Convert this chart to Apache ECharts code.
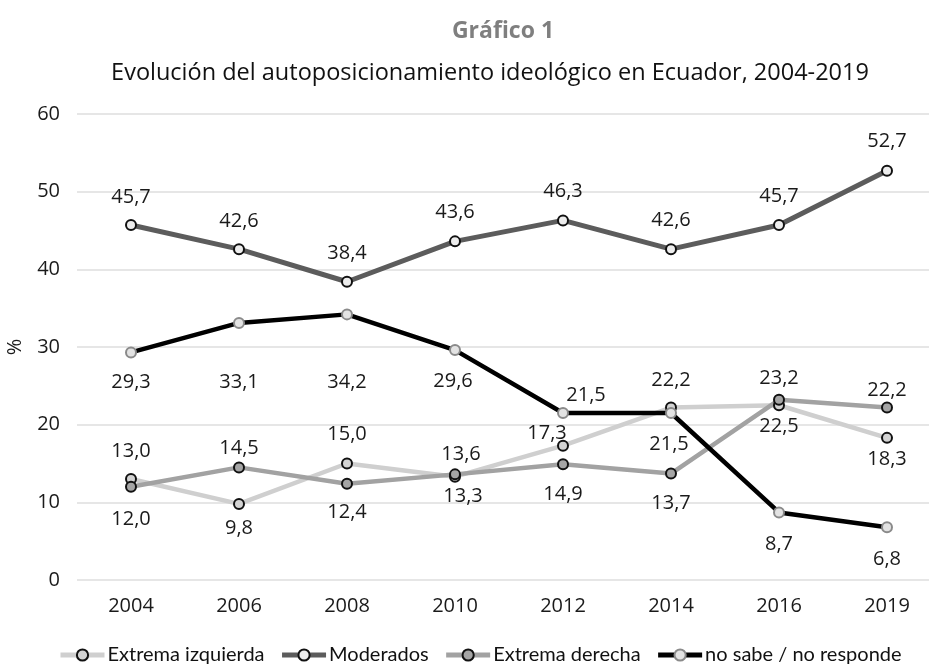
<!DOCTYPE html>
<html>
<head>
<meta charset="utf-8">
<script src="https://cdn.jsdelivr.net/npm/echarts@6/dist/echarts.min.js"></script>
<style>
html,body{margin:0;padding:0;background:#fff;}
#c{width:929px;height:666px;}
</style>
</head>
<body>
<div id="c"></div>
<script>
var years = ['2004','2006','2008','2010','2012','2014','2016','2019'];
var yTicks = [0, 10, 20, 30, 40, 50, 60];
var seriesNames = ['Extrema izquierda','Moderados','Extrema derecha','no sabe / no responde'];
var extremaIzquierda = [13.0, 9.8, 15.0, 13.3, 17.3, 22.2, 22.5, 18.3];
var moderados = [45.7, 42.6, 38.4, 43.6, 46.3, 42.6, 45.7, 52.7];
var extremaDerecha = [12.0, 14.5, 12.4, 13.6, 14.9, 13.7, 23.2, 22.2];
var noSabe = [29.3, 33.1, 34.2, 29.6, 21.5, 21.5, 8.7, 6.8];

// label offsets (style only): [dx, dy] of label centre relative to its point
var labelOffsets = [
  [[0,-28],[0,24],[0,-29],[8,20],[-16,-12],[0,-27],[0,21],[0,21]],
  [[0,-28],[0,-28],[0,-28],[0,-29],[0,-29],[0,-29],[0,-29],[0,-29]],
  [[0,32],[0,-19],[0,29],[6,-20],[0,30],[0,30],[0,-22],[0,-17]],
  [[0,30],[0,59],[0,68],[-2,31],[23,-18],[-2,31],[0,32],[0,32]]
];
var styles = [
  {line:'#cfcfcf', fill:'#d3d3d3', border:'#111111', width:4.5},
  {line:'#5c5c5c', fill:'#ededed', border:'#111111', width:5},
  {line:'#a2a2a2', fill:'#a5a5a5', border:'#111111', width:4.5},
  {line:'#000000', fill:'#e3e3e3', border:'#8a8a8a', width:4.5}
];
var allData = [extremaIzquierda, moderados, extremaDerecha, noSabe];

function fmt(v){ return v.toFixed(1).replace('.', ','); }

var series = allData.map(function(arr, si){
  var st = styles[si];
  return {
    name: seriesNames[si],
    type: 'line',
    data: arr.map(function(v, i){
      return {
        value: v,
        label: { offset: labelOffsets[si][i] }
      };
    }),
    symbol: 'circle',
    symbolSize: 10,
    lineStyle: { color: st.line, width: st.width },
    itemStyle: { color: st.fill, borderColor: st.border, borderWidth: 2 },
    label: {
      show: true,
      position: 'inside',
      formatter: function(p){ return fmt(p.value); },
      fontFamily: 'Open Sans',
      fontSize: 20,
      color: '#1a1a1a'
    },
    emphasis: { disabled: true },
    animation: false
  };
});

var chart = echarts.init(document.getElementById('c'), null, {renderer:'canvas'});
chart.setOption({
  backgroundColor: '#ffffff',
  animation: false,
  title: [
    { text: 'Gráfico 1', left: 498, top: 15, textAlign: 'center',
      textStyle: { fontFamily: 'Open Sans', fontSize: 23, fontWeight: 'bold', color: '#7f7f7f' } },
    { text: 'Evolución del autoposicionamiento ideológico en Ecuador, 2004-2019', left: 485, top: 56, textAlign: 'center',
      textStyle: { fontFamily: 'Open Sans', fontSize: 23.5, fontWeight: 'normal', color: '#111111' } }
  ],
  legend: {
    data: seriesNames,
    left: 53,
    top: 640,
    width: 900,
    itemWidth: 44,
    itemHeight: 14,
    itemGap: 15,
    lineStyle: { width: 5 },
    textStyle: { fontFamily: 'Lato', fontSize: 20, color: '#111111', padding: [0,0,0,-2] }
  },
  grid: { left: 77, top: 114, width: 864, height: 466, outerBoundsMode: 'none', containLabel: false },
  xAxis: {
    type: 'category',
    data: years,
    boundaryGap: true,
    axisLine: { show: false },
    axisTick: { show: false },
    axisLabel: { margin: 16, fontFamily: 'Open Sans', fontSize: 20, color: '#1a1a1a' },
    splitLine: { show: false }
  },
  yAxis: {
    type: 'value',
    min: yTicks[0],
    max: yTicks[yTicks.length-1],
    interval: 10,
    name: '%',
    nameLocation: 'middle',
    nameRotate: 90,
    nameGap: 52,
    nameTextStyle: { fontFamily: 'Open Sans', fontSize: 20, color: '#1a1a1a' },
    axisLine: { show: false },
    axisTick: { show: false },
    axisLabel: { margin: 17, fontFamily: 'Open Sans', fontSize: 20, color: '#1a1a1a' },
    splitLine: { lineStyle: { color: '#dedede', width: 1.5 } }
  },
  series: series
});
</script>
</body>
</html>
